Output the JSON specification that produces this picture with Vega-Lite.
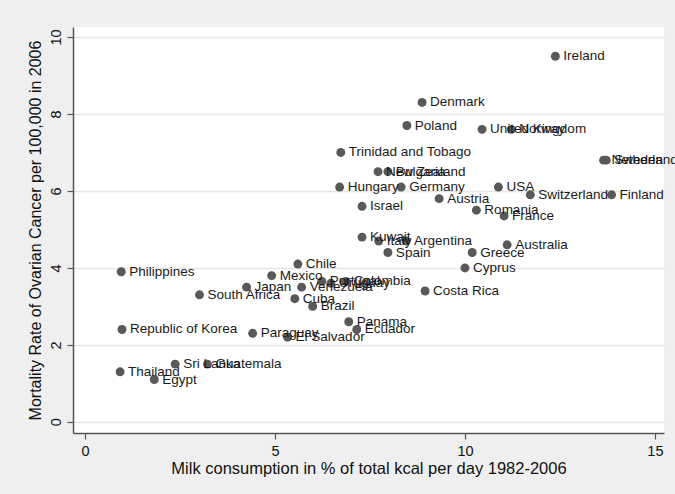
{
  "$schema": "https://vega.github.io/schema/vega-lite/v6.json",
  "width": 591,
  "height": 406,
  "autosize": {"type": "none"},
  "padding": {"left": 73, "top": 27, "right": 11, "bottom": 61},
  "background": "#efefef",
  "config": {
    "view": {"fill": "white", "stroke": null},
    "font": "Liberation Sans"
  },
  "data": {
    "values": [
      {"country": "Ireland", "milk": 12.38, "mort": 9.5},
      {"country": "Denmark", "milk": 8.87, "mort": 8.3},
      {"country": "Poland", "milk": 8.47, "mort": 7.7},
      {"country": "United Kingdom", "milk": 10.45, "mort": 7.6},
      {"country": "Norway", "milk": 11.22, "mort": 7.6},
      {"country": "Netherlands", "milk": 13.65, "mort": 6.8},
      {"country": "Sweden", "milk": 13.72, "mort": 6.8},
      {"country": "Trinidad and Tobago", "milk": 6.73, "mort": 7.0},
      {"country": "New Zealand", "milk": 7.71, "mort": 6.5},
      {"country": "Bulgaria", "milk": 7.97, "mort": 6.5},
      {"country": "Hungary", "milk": 6.7, "mort": 6.1},
      {"country": "Germany", "milk": 8.32, "mort": 6.1},
      {"country": "USA", "milk": 10.88, "mort": 6.1},
      {"country": "Switzerland", "milk": 11.72, "mort": 5.9},
      {"country": "Finland", "milk": 13.86, "mort": 5.9},
      {"country": "Austria", "milk": 9.32, "mort": 5.8},
      {"country": "Israel", "milk": 7.29, "mort": 5.6},
      {"country": "Romania", "milk": 10.3, "mort": 5.5},
      {"country": "France", "milk": 11.03, "mort": 5.35},
      {"country": "Kuwait", "milk": 7.29, "mort": 4.8},
      {"country": "Italy", "milk": 7.73, "mort": 4.7},
      {"country": "Argentina", "milk": 8.45, "mort": 4.7},
      {"country": "Australia", "milk": 11.11, "mort": 4.6},
      {"country": "Spain", "milk": 7.97, "mort": 4.4},
      {"country": "Greece", "milk": 10.19, "mort": 4.4},
      {"country": "Chile", "milk": 5.6, "mort": 4.1},
      {"country": "Cyprus", "milk": 10.0, "mort": 4.0},
      {"country": "Philippines", "milk": 0.95, "mort": 3.9},
      {"country": "Mexico", "milk": 4.91, "mort": 3.8},
      {"country": "Portugal", "milk": 6.23, "mort": 3.65},
      {"country": "Colombia", "milk": 6.86, "mort": 3.65},
      {"country": "Uruguay", "milk": 6.47, "mort": 3.6},
      {"country": "Japan", "milk": 4.25, "mort": 3.5},
      {"country": "Venezuela", "milk": 5.7, "mort": 3.5},
      {"country": "Costa Rica", "milk": 8.95, "mort": 3.4},
      {"country": "South Africa", "milk": 3.01, "mort": 3.3},
      {"country": "Cuba", "milk": 5.52, "mort": 3.2},
      {"country": "Brazil", "milk": 5.99, "mort": 3.0},
      {"country": "Panama", "milk": 6.94, "mort": 2.6},
      {"country": "Republic of Korea", "milk": 0.97, "mort": 2.4},
      {"country": "Ecuador", "milk": 7.15, "mort": 2.4},
      {"country": "Paraguay", "milk": 4.41, "mort": 2.3},
      {"country": "El Salvador", "milk": 5.33, "mort": 2.2},
      {"country": "Sri Lanka", "milk": 2.37, "mort": 1.5},
      {"country": "Guatemala", "milk": 3.22, "mort": 1.5},
      {"country": "Thailand", "milk": 0.92, "mort": 1.3},
      {"country": "Egypt", "milk": 1.82, "mort": 1.1}
    ]
  },
  "encoding": {
    "x": {
      "field": "milk", "type": "quantitative",
      "scale": {"domain": [-0.32, 15.24], "nice": false, "zero": false},
      "axis": {
        "title": "Milk consumption in % of total kcal per day 1982-2006",
        "values": [0, 5, 10, 15],
        "grid": false,
        "domainColor": "#555555", "domainWidth": 1.5,
        "tickColor": "#555555", "tickWidth": 1.2, "tickSize": 6,
        "labelFont": "Liberation Sans", "labelFontSize": 14.5, "labelColor": "#111111", "labelPadding": 5,
        "titleFont": "Liberation Sans", "titleFontSize": 16.5, "titleFontWeight": "normal", "titleColor": "#111111", "titlePadding": 3
      }
    },
    "y": {
      "field": "mort", "type": "quantitative",
      "scale": {"domain": [-0.29, 10.26], "nice": false, "zero": false},
      "axis": {
        "title": "Mortality Rate of Ovarian Cancer per 100,000 in 2006",
        "values": [0, 2, 4, 6, 8, 10],
        "grid": true, "gridColor": "#e6e6e6", "gridWidth": 1.5,
        "domainColor": "#555555", "domainWidth": 1.5,
        "tickColor": "#555555", "tickWidth": 1.2, "tickSize": 6,
        "labelAngle": -90, "labelAlign": "center", "labelBaseline": "bottom",
        "labelFont": "Liberation Sans", "labelFontSize": 14.5, "labelColor": "#111111", "labelPadding": 4,
        "titleFont": "Liberation Sans", "titleFontSize": 16, "titleFontWeight": "normal", "titleColor": "#111111", "titlePadding": 5
      }
    }
  },
  "layer": [
    {
      "mark": {"type": "point", "filled": true, "shape": "circle", "size": 80, "color": "#595959", "opacity": 1}
    },
    {
      "mark": {"type": "text", "align": "left", "baseline": "middle", "dx": 8, "font": "Liberation Sans", "fontSize": 13.5, "color": "#1a1a1a"},
      "encoding": {"text": {"field": "country"}}
    }
  ]
}
